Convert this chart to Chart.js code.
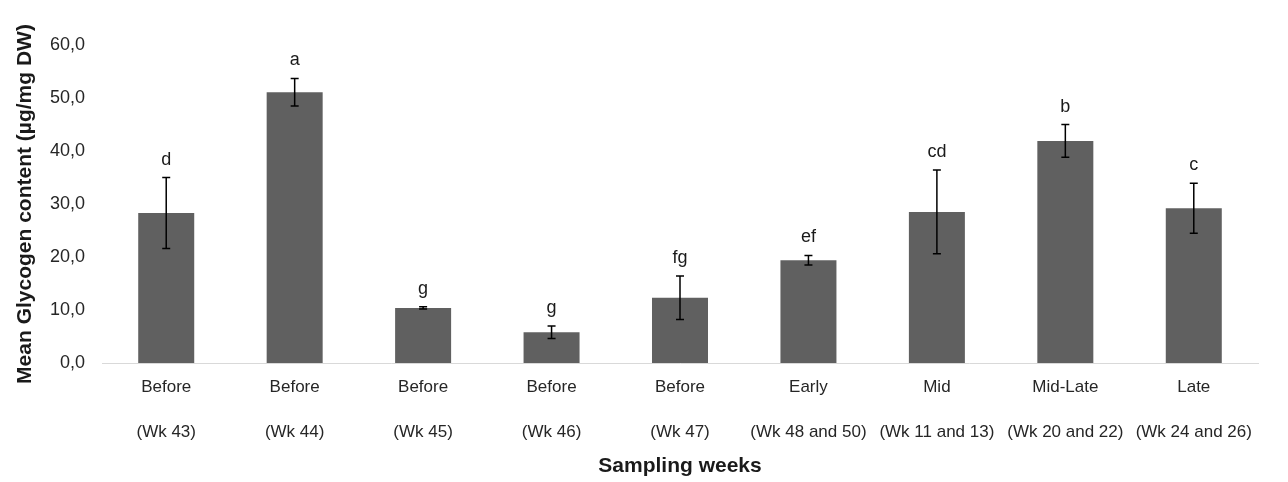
<!DOCTYPE html>
<html>
<head>
<meta charset="utf-8">
<script src="https://cdn.jsdelivr.net/npm/chart.js@4"></script>
<style>
  html, body { margin: 0; padding: 0; background: #fff; }
  #wrap { width: 1288px; height: 482px; }
</style>
</head>
<body>
<div id="wrap"><canvas id="myChart"></canvas></div>
<script>
// values
const phases = ['Before', 'Before', 'Before', 'Before', 'Before', 'Early', 'Mid', 'Mid-Late', 'Late'];
const weeks = ['(Wk 43)', '(Wk 44)', '(Wk 45)', '(Wk 46)', '(Wk 47)', '(Wk 48 and 50)', '(Wk 11 and 13)', '(Wk 20 and 22)', '(Wk 24 and 26)'];
const means = [28.3, 51.1, 10.4, 5.8, 12.3, 19.4, 28.5, 41.9, 29.2];
const errors = [6.7, 2.6, 0.2, 1.2, 4.1, 0.9, 7.9, 3.1, 4.7];
const letters = ['d', 'a', 'g', 'g', 'fg', 'ef', 'cd', 'b', 'c'];
const yTicks = [0, 10, 20, 30, 40, 50, 60];

const labels = phases.map((p, i) => [p, weeks[i]]);

// error bars + significance letters
const errorBars = {
  id: 'errorBars',
  afterDatasetsDraw(chart) {
    const ctx = chart.ctx;
    const y = chart.scales.y;
    const meta = chart.getDatasetMeta(0);
    ctx.save();
    ctx.strokeStyle = '#000';
    ctx.lineWidth = 1.5;
    meta.data.forEach((bar, i) => {
      const x = bar.x;
      const top = y.getPixelForValue(means[i] + errors[i]);
      const bot = y.getPixelForValue(means[i] - errors[i]);
      ctx.beginPath();
      ctx.moveTo(x, top); ctx.lineTo(x, bot);
      ctx.moveTo(x - 4, top); ctx.lineTo(x + 4, top);
      ctx.moveTo(x - 4, bot); ctx.lineTo(x + 4, bot);
      ctx.stroke();
      ctx.fillStyle = '#1a1a1a';
      ctx.font = '18px "Liberation Sans", Arial, sans-serif';
      ctx.textAlign = 'center';
      ctx.textBaseline = 'alphabetic';
      ctx.fillText(letters[i], x, top - 13);
    });
    ctx.restore();
  }
};

new Chart('myChart', {
  type: 'bar',
  data: {
    labels: labels,
    datasets: [{
      data: means,
      backgroundColor: '#606060',
      barPercentage: 0.436,
      categoryPercentage: 1
    }]
  },
  options: {
    responsive: true,
    maintainAspectRatio: false,
    animation: false,
    layout: { padding: { top: 45, right: 30, left: 0, bottom: 0 } },
    plugins: {
      legend: { display: false },
      tooltip: { enabled: false }
    },
    scales: {
      x: {
        grid: { display: false },
        border: { display: true, color: '#d9d9d9', width: 1 },
        ticks: {
          color: '#262626',
          padding: -6,
          maxRotation: 0,
          autoSkip: false,
          font: { family: '"Liberation Sans", Arial, sans-serif', size: 17, lineHeight: 2.647 }
        },
        title: {
          display: true,
          text: 'Sampling weeks',
          color: '#1a1a1a',
          padding: { top: 0, bottom: 3 },
          font: { family: '"Liberation Sans", Arial, sans-serif', size: 21, weight: 'bold' }
        },
        afterFit: s => { s.height = 119; }
      },
      y: {
        min: 0,
        max: 60,
        afterBuildTicks: s => { s.ticks = yTicks.map(v => ({ value: v })); },
        grid: { display: false, drawTicks: false },
        border: { display: false },
        ticks: {
          color: '#262626',
          padding: 17,
          font: { family: '"Liberation Sans", Arial, sans-serif', size: 18 },
          callback: v => v.toFixed(1).replace('.', ',')
        },
        title: {
          display: true,
          text: 'Mean Glycogen content (µg/mg DW)',
          color: '#1a1a1a',
          padding: { top: 13, bottom: 0 },
          font: { family: '"Liberation Sans", Arial, sans-serif', size: 21, weight: 'bold' }
        },
        afterFit: s => { s.width = 102; }
      }
    }
  },
  plugins: [errorBars]
});
</script>
</body>
</html>
